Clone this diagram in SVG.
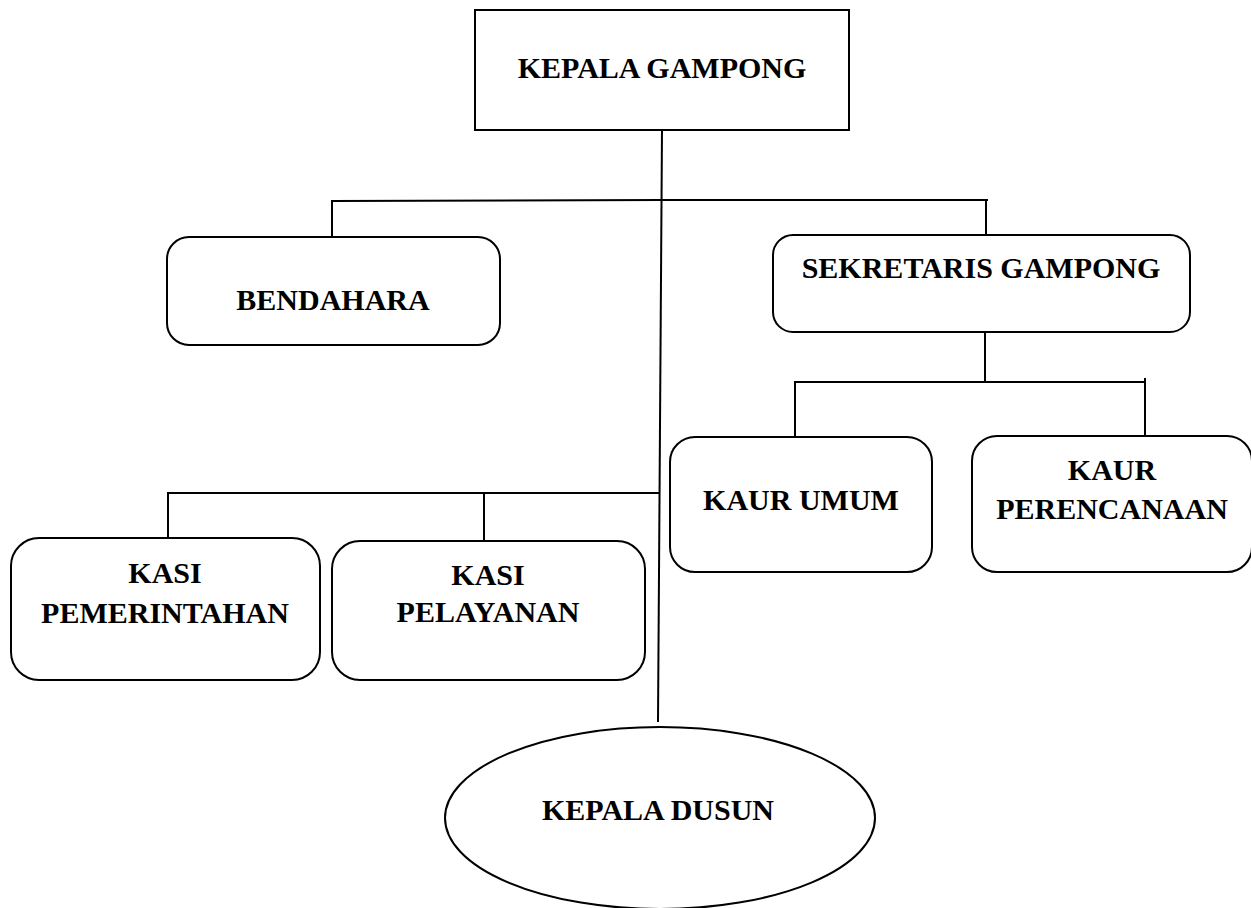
<svg xmlns="http://www.w3.org/2000/svg" width="1251" height="908" viewBox="0 0 1251 908">
<style>
.box{fill:#fff;stroke:#000;stroke-width:2}
.ln{fill:none;stroke:#000;stroke-width:2}
.t{font-family:"Liberation Serif","Times New Roman",serif;font-weight:bold;font-size:30px;text-anchor:middle;fill:#000}
</style>
<rect width="1251" height="908" fill="#fff"/>
<g id="connectors">
<line class="ln" x1="662" y1="130" x2="658" y2="722"/>
<polyline class="ln" points="332,237 332,201 662,200 988,200"/>
<line class="ln" x1="986" y1="200" x2="986" y2="236"/>
<line class="ln" x1="985" y1="332" x2="985" y2="382"/>
<polyline class="ln" points="795,437 795,382 1145,382 1145,436"/>
<line class="ln" x1="1145" y1="378" x2="1145" y2="383"/>
<polyline class="ln" points="168,538 168,493 659,493"/>
<line class="ln" x1="484" y1="492" x2="484" y2="541"/>
</g>
<g id="kepala-gampong">
<rect class="box" x="475" y="10" width="374" height="120"/>
<text class="t" x="662" y="78">KEPALA GAMPONG</text>
</g>
<g id="bendahara">
<rect class="box" x="167" y="237" width="333" height="108" rx="22" ry="22"/>
<text class="t" x="333" y="310">BENDAHARA</text>
</g>
<g id="sekretaris-gampong">
<rect class="box" x="773" y="235" width="417" height="97" rx="20" ry="20"/>
<text class="t" x="981" y="278">SEKRETARIS GAMPONG</text>
</g>
<g id="kaur-umum">
<rect class="box" x="670" y="437" width="262" height="135" rx="25" ry="25"/>
<text class="t" x="801" y="510">KAUR UMUM</text>
</g>
<g id="kaur-perencanaan">
<rect class="box" x="972" y="436" width="280" height="136" rx="25" ry="25"/>
<text class="t" x="1112" y="480">KAUR</text>
<text class="t" x="1112" y="519">PERENCANAAN</text>
</g>
<g id="kasi-pemerintahan">
<rect class="box" x="11" y="538" width="309" height="142" rx="28" ry="28"/>
<text class="t" x="165" y="583">KASI</text>
<text class="t" x="165" y="623">PEMERINTAHAN</text>
</g>
<g id="kasi-pelayanan">
<rect class="box" x="332" y="541" width="313" height="139" rx="28" ry="28"/>
<text class="t" x="488" y="585">KASI</text>
<text class="t" x="488" y="622">PELAYANAN</text>
</g>
<g id="kepala-dusun">
<ellipse class="box" cx="660" cy="818" rx="215" ry="91"/>
<text class="t" x="658" y="820">KEPALA DUSUN</text>
</g>
</svg>
